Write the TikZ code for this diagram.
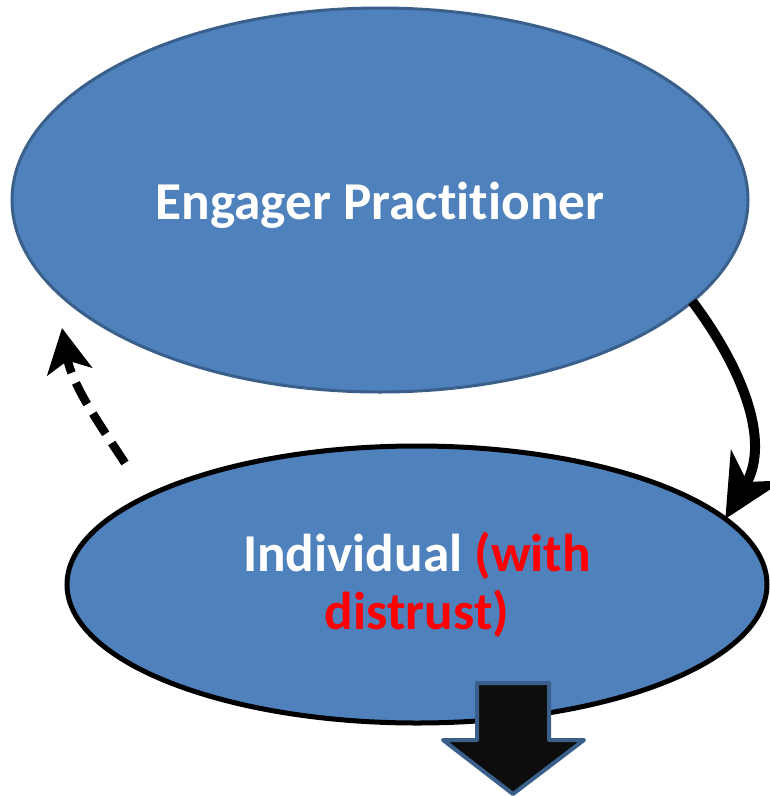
\documentclass[tikz,border=0pt]{standalone}
\usepackage{fontspec}
\setmainfont{Carlito}[Ligatures=NoCommon]
\usepackage{tikz}
\usetikzlibrary{arrows.meta,shapes.geometric}

\definecolor{blobfill}{HTML}{4F81BD}
\definecolor{blobline}{HTML}{3A5F8B}

\begin{document}
\begin{tikzpicture}[x=1pt, y=-1pt,
                    blob/.style={ellipse, fill=blobfill, inner sep=0pt, outer sep=0pt, text=white,
                                 align=center, font=\bfseries\fontsize{53.3}{58}\selectfont},
                    link/.style={line width=8.5pt}, arrow/.style={-{Stealth[length=62pt, width=60pt, inset=19pt]}},
                    darrow/.style={-{Stealth[length=44pt, width=45pt, inset=11pt]}}]

\useasboundingbox (0,0) rectangle (770,796);

% Top ellipse
\node[blob, draw=blobline, line width=3pt, minimum width=736pt, minimum height=384pt,
      text height=38pt, text depth=0pt] (eng) at (380,200) {Engager Practitioner};

% Bottom ellipse
\node[blob, draw=black, line width=5pt, minimum width=700pt, minimum height=277pt] (ind) at (417,584.5)
    {Individual \textcolor{red}{(with}\\\textcolor{red}{distrust)}};

% Solid arrow down
\draw[link, line width=10pt, arrow] (eng.-18.6) .. controls (740,365) and (772,440) .. (ind.12.5);

% Dashed arrow back up
\coordinate (back0) at (125,463);
\coordinate (back1) at (62,328);
\draw[link, darrow, dash pattern=on 24pt off 11pt] (back0) .. controls (100,425) and (72,385) .. (back1);

% Block arrow out
\draw[fill=black!95, draw=blobline, line width=4pt, line join=round]
    (477,683) -- (549,683) -- (549,740) -- (584,740) -- (513,794) -- (443,740) -- (477,740) -- cycle;

\end{tikzpicture}
\end{document}
